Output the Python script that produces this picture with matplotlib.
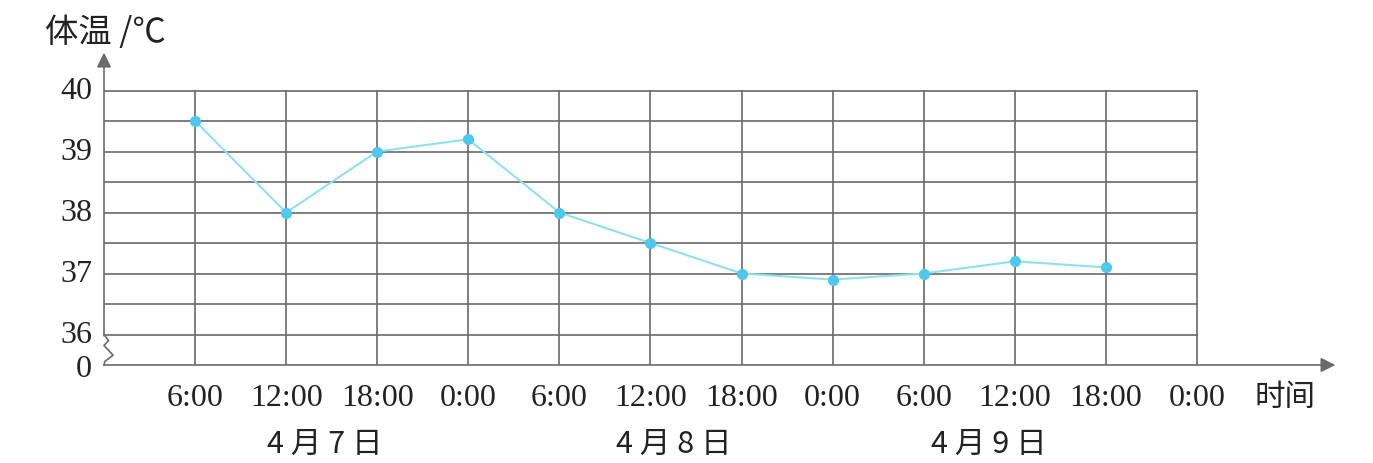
import matplotlib.pyplot as plt

# 体温记录 (4月7日 - 4月9日)
time_labels = ['6:00', '12:00', '18:00', '0:00', '6:00', '12:00',
               '18:00', '0:00', '6:00', '12:00', '18:00', '0:00']
temps = [39.5, 38.0, 39.0, 39.2, 38.0, 37.5, 37.0, 36.9, 37.0, 37.2, 37.1]
y_ticks = [36, 37, 38, 39, 40]
date_labels = ['4 月 7 日', '4 月 8 日', '4 月 9 日']
date_pos = [2.42, 6.25, 9.72]

serif = ['Liberation Serif', 'DejaVu Serif']
cjk = ['Noto Sans CJK SC', 'DejaVu Sans']
grid_c = '#6a6a6a'
txt_c = '#222222'

fig = plt.figure(figsize=(13.73, 4.64), dpi=100)
ax = fig.add_axes([104 / 1373, 98 / 464, 13.6 * 91.08 / 1373, 5.15 * 61 / 464])
ax.set_xlim(0, 13.6)
ax.set_ylim(35.5, 40.65)
ax.axis('off')

n = len(time_labels)
# grid
for gx in range(1, n + 1):
    ax.plot([gx, gx], [35.5, 40], color=grid_c, lw=1.2, zorder=1)
gy = 36.0
while gy <= 40.01:
    ax.plot([0, n], [gy, gy], color=grid_c, lw=1.2, zorder=1)
    gy += 0.5

# axes with arrows
ax.annotate('', xy=(0, 40.62), xytext=(0, 35.98),
            arrowprops=dict(arrowstyle='-|>', color=grid_c, lw=1.2,
                            mutation_scale=22, shrinkA=0, shrinkB=0))
ax.annotate('', xy=(13.52, 35.5), xytext=(0, 35.5),
            arrowprops=dict(arrowstyle='-|>', color=grid_c, lw=1.2,
                            mutation_scale=22, shrinkA=0, shrinkB=0))
# break mark
zx = [0, 0.05, 0.0, 0.1, 0.01, 0]
zy = [36.0, 35.9, 35.82, 35.66, 35.56, 35.5]
ax.plot(zx, zy, color=grid_c, lw=1.2, clip_on=False)

# data
xs = list(range(1, len(temps) + 1))
ax.plot(xs, temps, color='#90e0f2', lw=1.5, zorder=3)
ax.plot(xs, temps, 'o', color='#4fc8ee', ms=7, zorder=4)

# labels
for t in y_ticks:
    ax.text(-0.13, t, str(t), ha='right', va='center', fontsize=23,
            family=serif, color=txt_c, clip_on=False)
ax.text(-0.13, 35.45, '0', ha='right', va='center', fontsize=23,
        family=serif, color=txt_c, clip_on=False)
for i, lab in enumerate(time_labels):
    ax.text(i + 1, 34.97, lab, ha='center', va='center', fontsize=23,
            family=serif, color=txt_c, clip_on=False)
for p, lab in zip(date_pos, date_labels):
    ax.text(p, 34.21, lab, ha='center', va='center', fontsize=22,
            family=cjk, color=txt_c, clip_on=False)
ax.text(12.97, 34.99, '时间', ha='center', va='center', fontsize=22,
        family=cjk, color=txt_c, clip_on=False)
ax.text(-0.65, 40.96, '体温 /℃', ha='left', va='center', fontsize=24,
        family=cjk, color=txt_c, clip_on=False)

fig.savefig('out.png', dpi=100)
